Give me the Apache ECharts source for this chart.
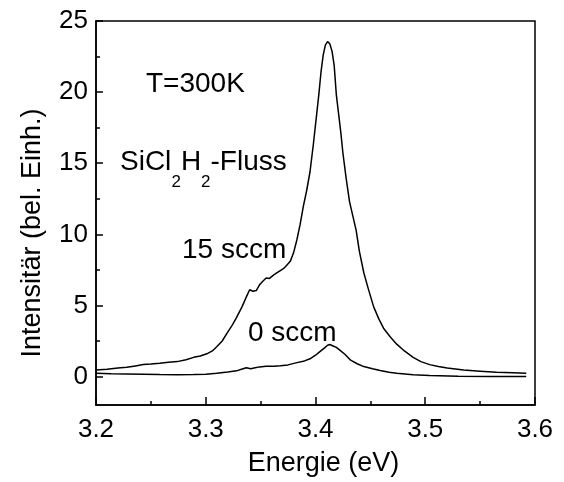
<!DOCTYPE html>
<html><head><meta charset="utf-8">
<script src="https://cdn.jsdelivr.net/npm/echarts@6/dist/echarts.min.js"></script>
<style>html,body{margin:0;padding:0;background:#fff}#c{width:564px;height:482px}</style>
</head><body><div id="c"></div>
<script>
const energy15 = [3.200,3.210,3.220,3.228,3.236,3.243,3.250,3.258,3.266,3.274,3.282,3.289,3.295,3.301,3.306,3.310,3.315,3.319,3.324,3.328,3.333,3.337,3.340,3.343,3.346,3.349,3.352,3.355,3.358,3.362,3.365,3.368,3.371,3.374,3.377,3.380,3.383,3.386,3.389,3.392,3.395,3.398,3.401,3.403,3.405,3.407,3.409,3.411,3.413,3.415,3.417,3.419,3.421,3.423,3.425,3.428,3.431,3.434,3.437,3.440,3.444,3.448,3.453,3.458,3.462,3.468,3.474,3.481,3.489,3.496,3.504,3.512,3.520,3.535,3.550,3.565,3.580,3.592];
const intensity15 = [0.46,0.52,0.60,0.65,0.75,0.84,0.88,0.93,1.00,1.05,1.18,1.35,1.45,1.60,1.80,2.10,2.50,3.00,3.60,4.14,4.90,5.60,6.10,6.00,6.05,6.45,6.70,6.93,6.90,7.15,7.30,7.45,7.60,7.85,8.10,8.70,9.60,10.7,12.0,13.1,14.4,16.3,18.4,19.8,21.4,22.6,23.3,23.55,23.4,22.9,21.9,19.8,18.5,17.2,15.7,13.9,12.3,11.3,10.3,8.8,7.3,6.2,4.9,4.0,3.4,2.8,2.28,1.8,1.35,1.05,0.84,0.70,0.60,0.46,0.38,0.30,0.27,0.23];
const energy0 = [3.200,3.214,3.228,3.243,3.258,3.274,3.289,3.300,3.310,3.320,3.328,3.334,3.337,3.341,3.345,3.349,3.355,3.362,3.368,3.375,3.383,3.390,3.395,3.400,3.404,3.408,3.411,3.413,3.416,3.419,3.423,3.427,3.432,3.438,3.444,3.452,3.459,3.467,3.474,3.489,3.504,3.530,3.560,3.592];
const intensity0 = [0.23,0.20,0.18,0.16,0.14,0.13,0.14,0.17,0.23,0.32,0.40,0.55,0.62,0.55,0.62,0.68,0.72,0.72,0.76,0.82,0.98,1.10,1.25,1.50,1.75,2.00,2.20,2.25,2.15,2.05,1.80,1.55,1.15,0.90,0.70,0.55,0.42,0.30,0.23,0.13,0.07,0.03,0.01,0.00];
const yTicks = [0,5,10,15,20,25];
const yMinorTicks = [2.5,7.5,12.5,17.5,22.5];
const labels = {temp:'T=300K', gas:['SiCl','2','H','2','-Fluss'], hi:'15 sccm', lo:'0 sccm'};

const FONT = '"Liberation Sans", Arial, sans-serif';
const zip = (a,b) => a.map((v,i)=>[v,b[i]]);
const chart = echarts.init(document.getElementById('c'), null, {renderer:'canvas'});
const txt = (text, x, y, size) => ({type:'text', left:x, top:y, style:{text, fontSize:size, fontFamily:FONT, fill:'#000'}});
chart.setOption({
  animation:false,
  backgroundColor:'#fff',
  grid:{left:96,right:29,top:21,bottom:74,show:true,borderColor:'#000',borderWidth:1.5,backgroundColor:'transparent'},
  xAxis:{type:'value',min:3.2,max:3.6,interval:0.1,
    name:'Energie (eV)',nameLocation:'middle',nameGap:45,
    nameTextStyle:{fontSize:27,fontFamily:FONT,color:'#000',padding:[0,0,0,16]},
    axisLine:{onZero:false,lineStyle:{color:'#000',width:1.5}},
    axisTick:{inside:true,length:8,lineStyle:{color:'#000',width:1.5}},
    minorTick:{show:true,splitNumber:2,length:4,lineStyle:{color:'#000',width:1.5}},
    splitLine:{show:false},minorSplitLine:{show:false},
    axisLabel:{fontSize:26,fontFamily:FONT,color:'#000',margin:12,formatter:v=>v.toFixed(1)}},
  yAxis:[{type:'value',min:-2,max:25,position:'left',
    name:'Intensitär (bel. Einh.)',nameLocation:'middle',nameGap:50,
    nameTextStyle:{fontSize:27,fontFamily:FONT,color:'#000',padding:[0,40,0,0]},
    axisLine:{onZero:false,lineStyle:{color:'#000',width:1.5}},
    axisTick:{inside:true,length:7,customValues:yTicks,lineStyle:{color:'#000',width:1.5}},
    splitLine:{show:false},
    axisLabel:{fontSize:26,fontFamily:FONT,color:'#000',margin:8,customValues:yTicks}},
   {type:'value',min:-2,max:25,position:'left',
    axisLine:{show:false,onZero:false},
    axisTick:{inside:true,length:4,customValues:yMinorTicks,lineStyle:{color:'#000',width:1.5}},
    splitLine:{show:false},axisLabel:{show:false}}],
  series:[
    {type:'line',data:zip(energy15,intensity15),showSymbol:false,lineStyle:{color:'#000',width:1.5},yAxisIndex:0},
    {type:'line',data:zip(energy0,intensity0),showSymbol:false,lineStyle:{color:'#000',width:1.5},yAxisIndex:0}
  ],
  graphic:[
    txt(labels.temp,146,70,28),
    txt(labels.gas[0],120,148,28),
    txt(labels.gas[1],171.5,174,17),
    txt(labels.gas[2],181,148,28),
    txt(labels.gas[3],201,174,17),
    txt(labels.gas[4],210.5,148,28),
    txt(labels.hi,182,236,28),
    txt(labels.lo,248,319,28)
  ]
});
</script></body></html>
